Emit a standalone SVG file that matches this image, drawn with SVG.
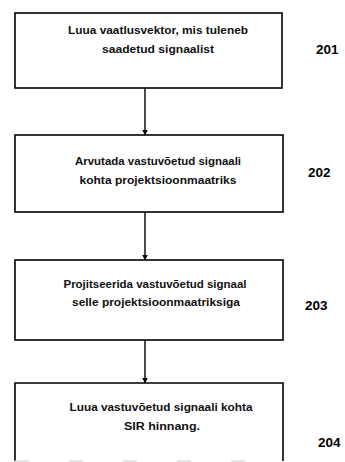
<svg xmlns="http://www.w3.org/2000/svg" width="345" height="462" viewBox="0 0 345 462">
<style>
.box{fill:#fff;stroke:#000;stroke-width:1.6}
.t{font-family:"Liberation Sans",Arial,sans-serif;font-size:10.5px;font-weight:bold;fill:#111;text-anchor:middle}
.n{font-family:"Liberation Sans",Arial,sans-serif;font-size:13.5px;font-weight:bold;fill:#000}
.c{stroke:#000;stroke-width:1.4;fill:none}
</style>
<defs>
<marker id="ah" markerWidth="6" markerHeight="7" refX="5.5" refY="3" orient="auto" markerUnits="userSpaceOnUse">
<path d="M0,0 L6,3 L0,6 Z" fill="#000"/>
</marker>
</defs>
<rect width="345" height="462" fill="#fff"/>
<g id="connectors">
<line class="c" x1="145" y1="88" x2="145" y2="135" marker-end="url(#ah)"/>
<line class="c" x1="145" y1="212" x2="145" y2="260" marker-end="url(#ah)"/>
<line class="c" x1="145" y1="340" x2="145" y2="383" marker-end="url(#ah)"/>
</g>
<g id="n201">
<rect class="box" x="15" y="13" width="267" height="75"/>
<text class="t" x="158" y="34" textLength="180" lengthAdjust="spacingAndGlyphs">Luua vaatlusvektor, mis tuleneb</text>
<text class="t" x="158" y="53" textLength="112" lengthAdjust="spacingAndGlyphs">saadetud signaalist</text>
<text class="n" x="316" y="54">201</text>
</g>
<g id="n202">
<rect class="box" x="15" y="135" width="268" height="77"/>
<text class="t" x="158" y="165" textLength="166" lengthAdjust="spacingAndGlyphs">Arvutada vastuvõetud signaali</text>
<text class="t" x="158" y="184" textLength="157" lengthAdjust="spacingAndGlyphs">kohta projektsioonmaatriks</text>
<text class="n" x="308" y="177">202</text>
</g>
<g id="n203">
<rect class="box" x="15" y="260" width="268" height="80"/>
<text class="t" x="155" y="288" textLength="183" lengthAdjust="spacingAndGlyphs">Projitseerida vastuvõetud signaal</text>
<text class="t" x="156" y="306" textLength="168" lengthAdjust="spacingAndGlyphs">selle projektsioonmaatriksiga</text>
<text class="n" x="305" y="310">203</text>
</g>
<g id="n204">
<path class="box" d="M15,461 L15,383 L283,383 L283,461" fill="#fff"/>
<line x1="15" y1="461" x2="283" y2="461" stroke="#ccc" stroke-width="1" stroke-dasharray="14,40"/>
<text class="t" x="161" y="411" textLength="183" lengthAdjust="spacingAndGlyphs">Luua vastuvõetud signaali kohta</text>
<text class="t" x="162" y="430" textLength="76" lengthAdjust="spacingAndGlyphs">SIR hinnang.</text>
<text class="n" x="318" y="447">204</text>
</g>
</svg>
